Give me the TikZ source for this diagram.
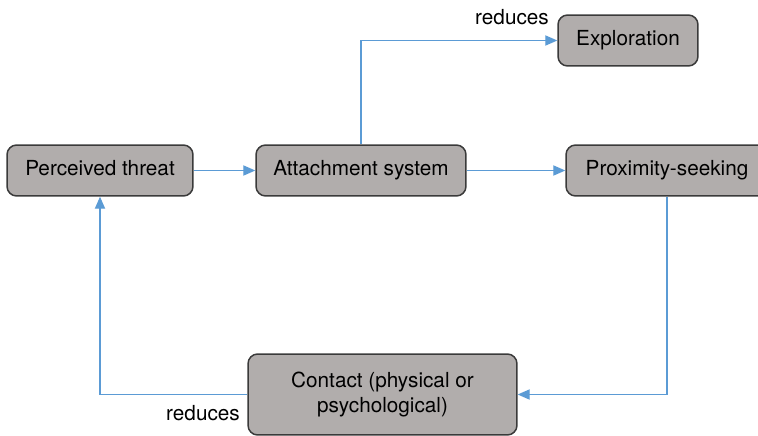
\documentclass[tikz,border=0pt]{standalone}
\usepackage{fontspec}
\setmainfont{TeX Gyre Heros}
\usepackage{xcolor}
\usetikzlibrary{arrows.meta,positioning}
\definecolor{boxfill}{HTML}{B1ADAC}
\definecolor{boxline}{HTML}{3A3A3A}
\definecolor{linkblue}{HTML}{5B9BD5}
\tikzset{box/.style={draw=boxline, fill=boxfill, line width=.85pt, rounded corners=5.5pt, minimum height=1.02cm, inner sep=0pt, font=\fontsize{11.8}{14.6}\selectfont, align=center}, onebox/.style={box, text height=.72em, text depth=.2em}, link/.style={-{Triangle[length=6.8pt, width=5.8pt]}, line width=.7pt, color=linkblue}, lab/.style={font=\fontsize{11.8}{14.6}\selectfont, inner sep=0pt}}

\begin{document}
\begin{tikzpicture}[x=0.02cm, y=-0.02cm]
\useasboundingbox (0,0) rectangle (758,436);
\node[onebox, minimum width=3.72cm] (threat) at (100,170.5) {Perceived threat};
\node[onebox, minimum width=4.2cm] (attach) at (361,170.5) {Attachment system};
\node[onebox, minimum width=2.8cm] (explore) at (628,40.5) {Exploration};
\node[onebox, minimum width=4.04cm] (prox) at (667,170.5) {Proximity-seeking};
\node[box, minimum width=5.38cm, minimum height=1.62cm] (contact) at (382.5,394.5) {Contact (physical or\\psychological)};
\draw[link] (threat) -- (attach); \draw[link] (attach) -- (prox);
\draw[link] (attach.north) |- (explore.west);
\draw[link] (prox.south) |- (contact.east);
\draw[link] (contact.west) -| (threat.south);
\node[lab] (redtop) at (512,17) {reduces}; \node[lab] (redbot) at (203,413) {reduces};
\end{tikzpicture}
\end{document}
